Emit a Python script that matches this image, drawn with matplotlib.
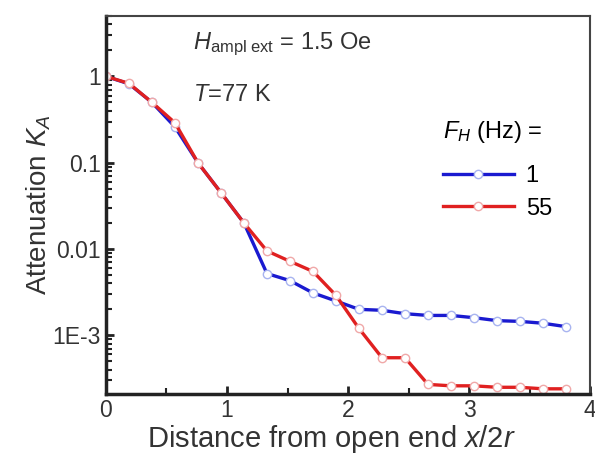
import matplotlib
matplotlib.use('Agg')
import matplotlib.pyplot as plt
from matplotlib.ticker import LogLocator, MultipleLocator, FixedLocator, FixedFormatter

plt.rcParams['font.family'] = 'Liberation Sans'
plt.rcParams['mathtext.fontset'] = 'custom'
plt.rcParams['mathtext.rm'] = 'Liberation Sans'
plt.rcParams['mathtext.it'] = 'Liberation Sans:italic'

# distance x/2r, common to both series
x_pos = [0.0, 0.19, 0.38, 0.57, 0.76, 0.95, 1.14, 1.33, 1.52, 1.71, 1.90,
         2.09, 2.28, 2.47, 2.66, 2.85, 3.04, 3.23, 3.42, 3.61, 3.80]

# F_H = 1 Hz
ka_1hz = [1.0, 0.82, 0.50, 0.26, 0.10, 0.045, 0.020, 0.0052, 0.0043, 0.0031, 0.0025,
          0.0020, 0.00195, 0.00178, 0.0017, 0.0017, 0.0016, 0.00148, 0.00145, 0.00138, 0.00126]

# F_H = 55 Hz
ka_55hz = [1.0, 0.83, 0.50, 0.29, 0.10, 0.045, 0.020, 0.0095, 0.0072, 0.0055, 0.0029,
           0.0012, 0.00055, 0.00055, 0.00027, 0.00026, 0.00026, 0.00025, 0.00025, 0.00024, 0.00024]

fig = plt.figure(figsize=(5.95, 4.59), dpi=100)
ax = fig.add_axes([0.178, 0.142, 0.814, 0.823])

ax.plot(x_pos, ka_1hz, color='#1a1ad0', lw=2.4, marker='o', ms=6,
        mfc='white', mec='#a8b4f0', mew=1.0, label='1')
ax.plot(x_pos, ka_55hz, color='#e02020', lw=2.4, marker='o', ms=6,
        mfc='white', mec='#f0a8a8', mew=1.0, label='55')

ax.set_yscale('log')
ax.set_xlim(0, 4)
ax.set_ylim(2.1e-4, 5)

ax.xaxis.set_major_locator(MultipleLocator(1))
ax.xaxis.set_minor_locator(MultipleLocator(0.5))
ax.yaxis.set_major_locator(FixedLocator([1e-3, 1e-2, 1e-1, 1]))
ax.yaxis.set_major_formatter(FixedFormatter(['1E-3', '0.01', '0.1', '1']))
ax.yaxis.set_minor_locator(LogLocator(base=10, subs=range(2, 10), numticks=20))
ax.yaxis.set_minor_formatter(plt.NullFormatter())

ax.tick_params(which='both', direction='in', top=False, right=False,
               labelsize=16.5, color='#222222', labelcolor='#333333')
ax.tick_params(which='major', length=6, width=2)
ax.tick_params(which='minor', length=4, width=1.5)

for side in ['left', 'bottom']:
    ax.spines[side].set_linewidth(2.5)
    ax.spines[side].set_color('#222222')
for side in ['top', 'right']:
    ax.spines[side].set_linewidth(1.5)
    ax.spines[side].set_color('#444444')

ax.set_xlabel('Distance from open end $x$/2$r$', fontsize=21, color='#333333')
ax.xaxis.set_label_coords(0.465, -0.077)
ax.set_ylabel('Attenuation $K_A$', fontsize=20, labelpad=0, color='#333333')

ax.text(0.18, 0.925, r'$H_{\mathrm{ampl\ ext}}$ = 1.5 Oe', transform=ax.transAxes,
        fontsize=17, color='#333333', va='center')
ax.text(0.18, 0.79, '$T$=77 K', transform=ax.transAxes,
        fontsize=17, color='#333333', va='center')

leg = ax.legend(title='$F_H$ (Hz) =', loc='upper right', bbox_to_anchor=(0.955, 0.77),
                frameon=False, fontsize=17, title_fontsize=17, handlelength=3.0,
                handletextpad=0.5, labelspacing=0.45, alignment='left', borderaxespad=0.3)
leg._legend_box.sep = 14

fig.savefig('out.png', dpi=100)
